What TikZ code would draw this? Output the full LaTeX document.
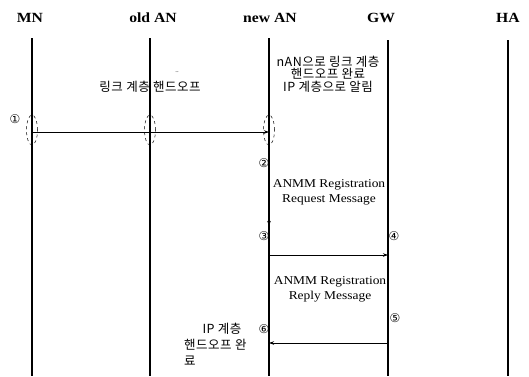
\documentclass[tikz,border=0pt]{standalone}
\usepackage{fontspec}
\setmainfont{Liberation Serif}[FakeStretch=1.12]
\newfontfamily\kr{Noto Sans CJK KR}[LetterSpace=4]
\newfontfamily\sym{DejaVu Sans}
\usetikzlibrary{arrows.meta,shapes.geometric}
\begin{document}
\begin{tikzpicture}[x=1pt,y=-1pt,
  head/.style={font=\bfseries\fontsize{14}{16}\selectfont, inner sep=0},
  life/.style={line width=1.3pt},
  msg/.style={-{Stealth[length=5pt,width=3.5pt]}, line width=0.7pt},
  krtxt/.style={font=\kr\fontsize{12.5}{12.5}\selectfont, align=center, inner sep=0},
  entxt/.style={font=\fontsize{12}{15}\selectfont, align=center, inner sep=0},
  num/.style={font=\sym\fontsize{12}{12}\selectfont, inner sep=0},
  hand/.style={draw, dashed, ellipse, line width=0.5pt, minimum width=11pt, minimum height=30pt, inner sep=0}]
\useasboundingbox (0,0) rectangle (529,376);
% headers
\node[head] (mn) at (30,17.5) {MN};
\node[head] (oan) at (153,17.5) {old AN};
\node[head] (nan) at (270,17.5) {new AN};
\node[head] (gw) at (381,17.5) {GW};
\node[head] (ha) at (508,17.5) {HA};
% lifelines
\coordinate (mnT) at (32,38);  \coordinate (mnB) at (32,376);
\coordinate (oanT) at (150,38); \coordinate (oanB) at (150,376);
\coordinate (nanT) at (269,38); \coordinate (nanB) at (269,376);
\coordinate (gwT) at (388,40); \coordinate (gwB) at (388,376);
\coordinate (haT) at (508,40); \coordinate (haB) at (508,376);
\draw[life] (mnT) -- (mnB);
\draw[life] (oanT) -- (oanB);
\draw[life] (nanT) -- (nanB);
\draw[life] (gwT) -- (gwB);
\draw[life] (haT) -- (haB);
% texts top
\node[krtxt] (t1) at (150,87) {링크 계층 핸드오프};
\node[font=\fontsize{6}{6}\selectfont, inner sep=0] (dots) at (177,72) {..};
\node[krtxt] (t2) at (328,74) {nAN으로 링크 계층\\핸드오프 완료\\IP 계층으로 알림};
% handoff ellipses
\node[num] (n1) at (15,119) {①};
\node[hand] (e1) at (32,130) {};
\node[hand] (e2) at (150,130) {};
\node[hand] (e3) at (269,130) {};
\coordinate (a1) at (32,132); \coordinate (a3) at (269,132);
\draw[msg] (a1) -- (a3);
% step 2
\node[num] (n2) at (264,163) {②};
\node[entxt] (req) at (329,192) {ANMM Registration\\Request Message};
\coordinate (d2) at (269,226);
\draw[life, -{Stealth[length=5pt,width=3.5pt]}] (e3.south) -- (d2);
% step 3/4
\node[num] (n3) at (264,236) {③};
\node[num] (n4) at (394,236) {④};
\coordinate (s3) at (269,255); \coordinate (s4) at (388,255);
\draw[msg] (s3) -- (s4);
\node[entxt] (rep) at (330,289) {ANMM Registration\\Reply Message};
% step 5/6
\node[num] (n5) at (395,318) {⑤};
\node[num] (n6) at (264,329) {⑥};
\coordinate (s5) at (388,343); \coordinate (s6) at (269,343);
\draw[msg] (s5) -- (s6);
\node[krtxt] (t6a) at (222,329) {IP 계층};
\node[krtxt, anchor=west] (t6b) at (184,345) {핸드오프 완};
\node[krtxt, anchor=west] (t6c) at (184,361) {료};
\end{tikzpicture}
\end{document}
